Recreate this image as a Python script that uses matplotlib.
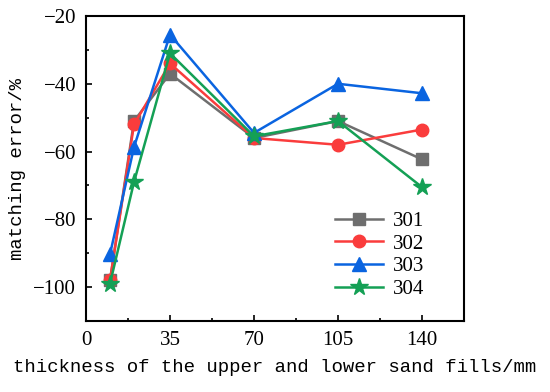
import numpy as np
import matplotlib
matplotlib.use('Agg')
import matplotlib.pyplot as plt
from matplotlib.ticker import MultipleLocator

# thickness of sand fills (mm)
thickness = [10, 20, 35, 70, 105, 140]

# matching error (%) per case
err_301 = [-98, -51, -37, -56, -51, -62.3]
err_302 = [-98, -52, -34, -56, -58, -53.5]
err_303 = [-90.3, -58.7, -25.5, -54.5, -40, -42.8]
err_304 = [-99, -69, -31, -55.5, -51, -70.5]

labels = ['301', '302', '303', '304']
colors = ['#6e6e6e', '#fa3c3c', '#0a64e0', '#14a055']
markers = ['s', 'o', '^', '*']
msizes = [8.5, 9, 10, 13]

mono = 'Liberation Mono'
serif = 'Liberation Serif'

fig = plt.figure(figsize=(5.5, 3.92), dpi=100)
ax = fig.add_axes([86/550, 71/392, 378/550, 305/392])

for y, lab, c, m, s in zip([err_301, err_302, err_303, err_304], labels, colors, markers, msizes):
    ax.plot(thickness, y, color=c, marker=m, markersize=s, linewidth=1.8, label=lab)

ax.set_xlim(0, 157.5)
ax.set_ylim(-110, -20)
ax.xaxis.set_major_locator(MultipleLocator(35))
ax.xaxis.set_minor_locator(MultipleLocator(17.5))
ax.yaxis.set_major_locator(MultipleLocator(20))
ax.yaxis.set_minor_locator(MultipleLocator(10))
ax.tick_params(which='both', direction='in', top=False, right=False, width=1.2)
ax.tick_params(which='major', length=4.5, labelsize=15, pad=7)
ax.tick_params(which='minor', length=2.5)
for lbl in ax.get_xticklabels() + ax.get_yticklabels():
    lbl.set_fontfamily(serif)
for sp in ax.spines.values():
    sp.set_linewidth(1.5)

ax.set_xlabel('thickness of the upper and lower sand fills/mm', fontfamily=mono, fontsize=13.7, labelpad=7)
ax.set_ylabel('matching error/%', fontfamily=mono, fontsize=13.7, labelpad=5)

leg = ax.legend(loc='lower right', bbox_to_anchor=(0.945, 0.01), frameon=False,
                prop={'family': serif, 'size': 15}, handlelength=2.3,
                labelspacing=0.15, handletextpad=0.5)

fig.savefig('out.png', dpi=100)
